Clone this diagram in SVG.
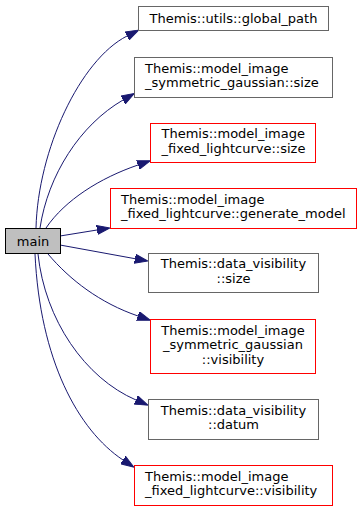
<svg xmlns="http://www.w3.org/2000/svg" width="363" height="511" viewBox="0 0 363 511">
  <style>
    .node rect { fill: #ffffff; stroke: #666666; stroke-width: 1; }
    .node.undoc rect { stroke: #ff0000; }
    .node.root rect { fill: #bfbfbf; stroke: #000000; }
    text { font-family: "DejaVu Sans", "Liberation Sans", sans-serif; font-size: 13px; fill: #000000; }
    .mid { text-anchor: middle; }
    .edges path { fill: none; stroke: #191970; stroke-width: 1; marker-end: url(#arrow); }
  </style>
  <defs>
    <marker id="arrow" markerUnits="userSpaceOnUse" viewBox="0 -5 14 10" markerWidth="14" markerHeight="10" refX="0" refY="0" orient="auto">
      <path d="M0,-4.5 L13,0 L0,4.5 z" fill="#191970" stroke="#191970" stroke-width="1"/>
    </marker>
  </defs>
  <rect width="363" height="511" fill="#ffffff"/>

  <g class="edges" id="edges">
    <path d="M36,228 C38,150 80,60 127,36"/>
    <path d="M40,228 C48,175 80,125 123,100"/>
    <path d="M46,228 C65,200 100,178 138,165"/>
    <path d="M60,236 L97,230"/>
    <path d="M60,245 L135,258.7"/>
    <path d="M48,254 C70,280 100,303 138,316"/>
    <path d="M38,254 C45,320 85,378 136,400"/>
    <path d="M35,254 C40,360 78,430 123,460"/>
  </g>

  <g class="node root" id="main">
    <rect x="5.5" y="228.5" width="55" height="25"/>
    <text class="mid" x="33" y="245.5">main</text>
  </g>
  <g class="node" id="global_path">
    <rect x="138.5" y="6.5" width="190" height="24"/>
    <text class="mid" x="233.5" y="22.5">Themis::utils::global_path</text>
  </g>
  <g class="node" id="sym_gauss_size">
    <rect x="134.5" y="57.5" width="198" height="40"/>
    <text x="145" y="72.5">Themis::model_image</text>
    <text x="145" y="87">_symmetric_gaussian::size</text>
  </g>
  <g class="node undoc" id="fixed_lc_size">
    <rect x="150.5" y="123.5" width="165" height="39"/>
    <text x="161.5" y="138">Themis::model_image</text>
    <text x="161.5" y="152.5">_fixed_lightcurve::size</text>
  </g>
  <g class="node undoc" id="fixed_lc_generate_model">
    <rect x="110.5" y="188.5" width="246" height="40"/>
    <text x="121" y="203.5">Themis::model_image</text>
    <text x="121" y="218">_fixed_lightcurve::generate_model</text>
  </g>
  <g class="node" id="data_vis_size">
    <rect x="148.5" y="253.5" width="170" height="39"/>
    <text class="mid" x="233.5" y="268">Themis::data_visibility</text>
    <text class="mid" x="233.5" y="282.5">::size</text>
  </g>
  <g class="node undoc" id="sym_gauss_visibility">
    <rect x="150.5" y="319.5" width="165" height="54"/>
    <text class="mid" x="233" y="334.5">Themis::model_image</text>
    <text class="mid" x="233" y="349">_symmetric_gaussian</text>
    <text class="mid" x="233" y="363.5">::visibility</text>
  </g>
  <g class="node" id="data_vis_datum">
    <rect x="148.5" y="399.5" width="170" height="40"/>
    <text class="mid" x="233.5" y="414.5">Themis::data_visibility</text>
    <text class="mid" x="233.5" y="429">::datum</text>
  </g>
  <g class="node undoc" id="fixed_lc_visibility">
    <rect x="134.5" y="465.5" width="198" height="40"/>
    <text x="145" y="480.5">Themis::model_image</text>
    <text x="145" y="495">_fixed_lightcurve::visibility</text>
  </g>
</svg>
